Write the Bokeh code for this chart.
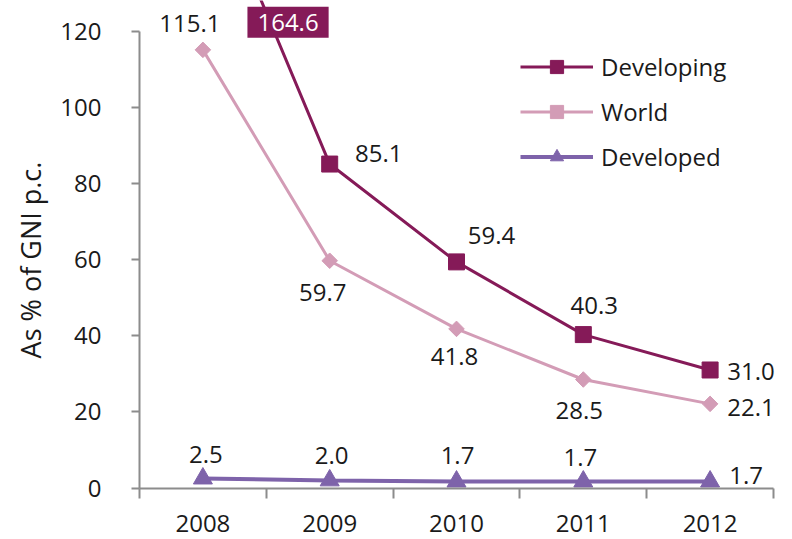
from bokeh.plotting import figure
from bokeh.models import (ColumnDataSource, LabelSet, Label, FixedTicker, Legend,
                          LegendItem, Range1d)
from bokeh.core.properties import value
from bokeh.embed import file_html
from bokeh.resources import INLINE
import math

# ---- data ----
years = ["2008", "2009", "2010", "2011", "2012"]
developing = [164.6, 85.1, 59.4, 40.3, 31.0]
world = [115.1, 59.7, 41.8, 28.5, 22.1]
developed = [2.5, 2.0, 1.7, 1.7, 1.7]
y_ticks = [0, 20, 40, 60, 80, 100, 120]
y_title = "As % of GNI p.c."

# ---- style ----
FONT = "Open Sans"
FS = "24px"
C_DEV = "#851a58"
C_WORLD = "#d39cb6"
C_DEVD = "#7e63aa"
AXIS_C = "#8c8c8c"
TXT = "#1a1a1a"

W, H = 792, 539
# pixel anchors of the plotting area (layout)
PX_X0, PX_X1 = 139.0, 773.0     # left / right end of the x axis
PX_Y0, PX_Y1 = 487.5, 30.7      # pixel rows of y = 0 and y = 120

# label offsets in pixels (dx right, dy down) per point, layout only
off_dev = [(0, 0), (49, -11), (35, -26), (11, -29), (41, 2)]
off_world = [(-13, -26), (-7, 32), (-2, 28), (-4, 31), (41, 4)]
off_devd = [(3, -24), (2, -25), (1, -26), (-3, -24), (36, -6)]

xs = list(range(1, len(years) + 1))
x_lo, x_hi = 0.5, len(years) + 0.5
y_lo, y_hi = y_ticks[0], y_ticks[-1]
ppx = (PX_X1 - PX_X0) / (x_hi - x_lo)
ppy = (PX_Y0 - PX_Y1) / (y_hi - y_lo)

p = figure(width=W, height=H, output_backend="svg", toolbar_location=None,
           x_range=Range1d(x_lo - PX_X0 / ppx, x_hi + (W - PX_X1) / ppx),
           y_range=Range1d(y_lo - (H - PX_Y0) / ppy, y_hi + PX_Y1 / ppy),
           min_border=0, min_border_left=0, min_border_right=0,
           min_border_top=0, min_border_bottom=0)
p.outline_line_color = None
p.xgrid.visible = False
p.ygrid.visible = False
p.background_fill_color = "white"
p.border_fill_color = "white"

# ---- axes ----
ya = p.yaxis[0]
ya.fixed_location = x_lo
ya.bounds = (y_lo, y_hi)
ya.ticker = FixedTicker(ticks=y_ticks)
ya.axis_line_color = AXIS_C
ya.axis_line_width = 2
ya.major_tick_line_color = AXIS_C
ya.major_tick_line_width = 2
ya.major_tick_out = 8
ya.major_tick_in = 0
ya.minor_tick_line_color = None
ya.major_label_standoff = 30
ya.major_label_text_font = FONT
ya.major_label_text_font_size = FS
ya.major_label_text_color = TXT
ya.axis_label = y_title
ya.axis_label_text_font = FONT
ya.axis_label_text_font_size = "27px"
ya.axis_label_text_font_style = "normal"
ya.axis_label_text_color = TXT
ya.axis_label_standoff = 8

xa = p.xaxis[0]
xa.fixed_location = y_lo
xa.bounds = (x_lo, x_hi)
xa.ticker = FixedTicker(ticks=xs, minor_ticks=[i + 0.5 for i in range(len(years) + 1)])
xa.major_label_overrides = {i + 1: y for i, y in enumerate(years)}
xa.axis_line_color = AXIS_C
xa.axis_line_width = 2
xa.major_tick_line_color = None
xa.major_tick_out = 0
xa.major_tick_in = 0
xa.minor_tick_line_color = AXIS_C
xa.minor_tick_line_width = 2
xa.minor_tick_out = 10
xa.minor_tick_in = 0
xa.major_label_standoff = 17
xa.major_label_text_font = FONT
xa.major_label_text_font_size = FS
xa.major_label_text_color = TXT

# ---- series ----
src_dev = ColumnDataSource(dict(x=xs, y=developing))
src_world = ColumnDataSource(dict(x=xs, y=world))
src_devd = ColumnDataSource(dict(x=xs, y=developed))

l_dev = p.line("x", "y", source=src_dev, line_color=C_DEV, line_width=3)
m_dev = p.scatter("x", "y", source=src_dev, marker="square", size=16,
                  fill_color=C_DEV, line_color=C_DEV)
l_world = p.line("x", "y", source=src_world, line_color=C_WORLD, line_width=3)
m_world = p.scatter("x", "y", source=src_world, marker="square", size=11,
                    angle=math.pi / 4, fill_color=C_WORLD, line_color=C_WORLD)
l_devd = p.line("x", "y", source=src_devd, line_color=C_DEVD, line_width=4)
m_devd = p.scatter("x", "y", source=src_devd, marker="triangle", size=19,
                   fill_color=C_DEVD, line_color=C_DEVD)

# ---- data labels ----
def add_labels(vals, offs, skip=()):
    idx = [i for i in range(len(vals)) if i not in skip]
    src = ColumnDataSource(dict(
        x=[xs[i] for i in idx],
        y=[vals[i] for i in idx],
        t=["%.1f" % vals[i] for i in idx],
        dx=[offs[i][0] for i in idx],
        dy=[-offs[i][1] for i in idx],
    ))
    p.add_layout(LabelSet(x="x", y="y", text="t", source=src,
                          x_offset="dx", y_offset="dy",
                          text_align="center", text_baseline="middle",
                          text_font=value(FONT), text_font_size=value(FS),
                          text_color=TXT))

add_labels(developing, off_dev, skip=(0,))
add_labels(world, off_world)
add_labels(developed, off_devd)

# off-scale value shown in a box where the line leaves the chart
x_cross = xs[0] + (developing[0] - y_hi) / (developing[0] - developing[1])
p.add_layout(Label(x=x_cross, y=y_hi, text="%.1f" % developing[0],
                   x_offset=14, y_offset=9,
                   text_align="center", text_baseline="middle",
                   text_font=FONT, text_font_size=FS, text_color="white",
                   background_fill_color=C_DEV, background_fill_alpha=1.0,
                   padding=dict(left=10, right=10, top=7, bottom=7)))

# ---- legend ----
legend = Legend(items=[
    LegendItem(label="Developing", renderers=[l_dev, m_dev]),
    LegendItem(label="World", renderers=[l_world, m_world]),
    LegendItem(label="Developed", renderers=[l_devd, m_devd]),
], location=(520, 366), orientation="vertical",
    border_line_color=None, background_fill_alpha=0,
    padding=0, margin=0, glyph_width=73, glyph_height=33, label_height=33,
    spacing=12, label_standoff=8,
    label_text_font=FONT, label_text_font_size=FS, label_text_color=TXT)
p.add_layout(legend)

open("out.html", "w").write(file_html(p, INLINE))
